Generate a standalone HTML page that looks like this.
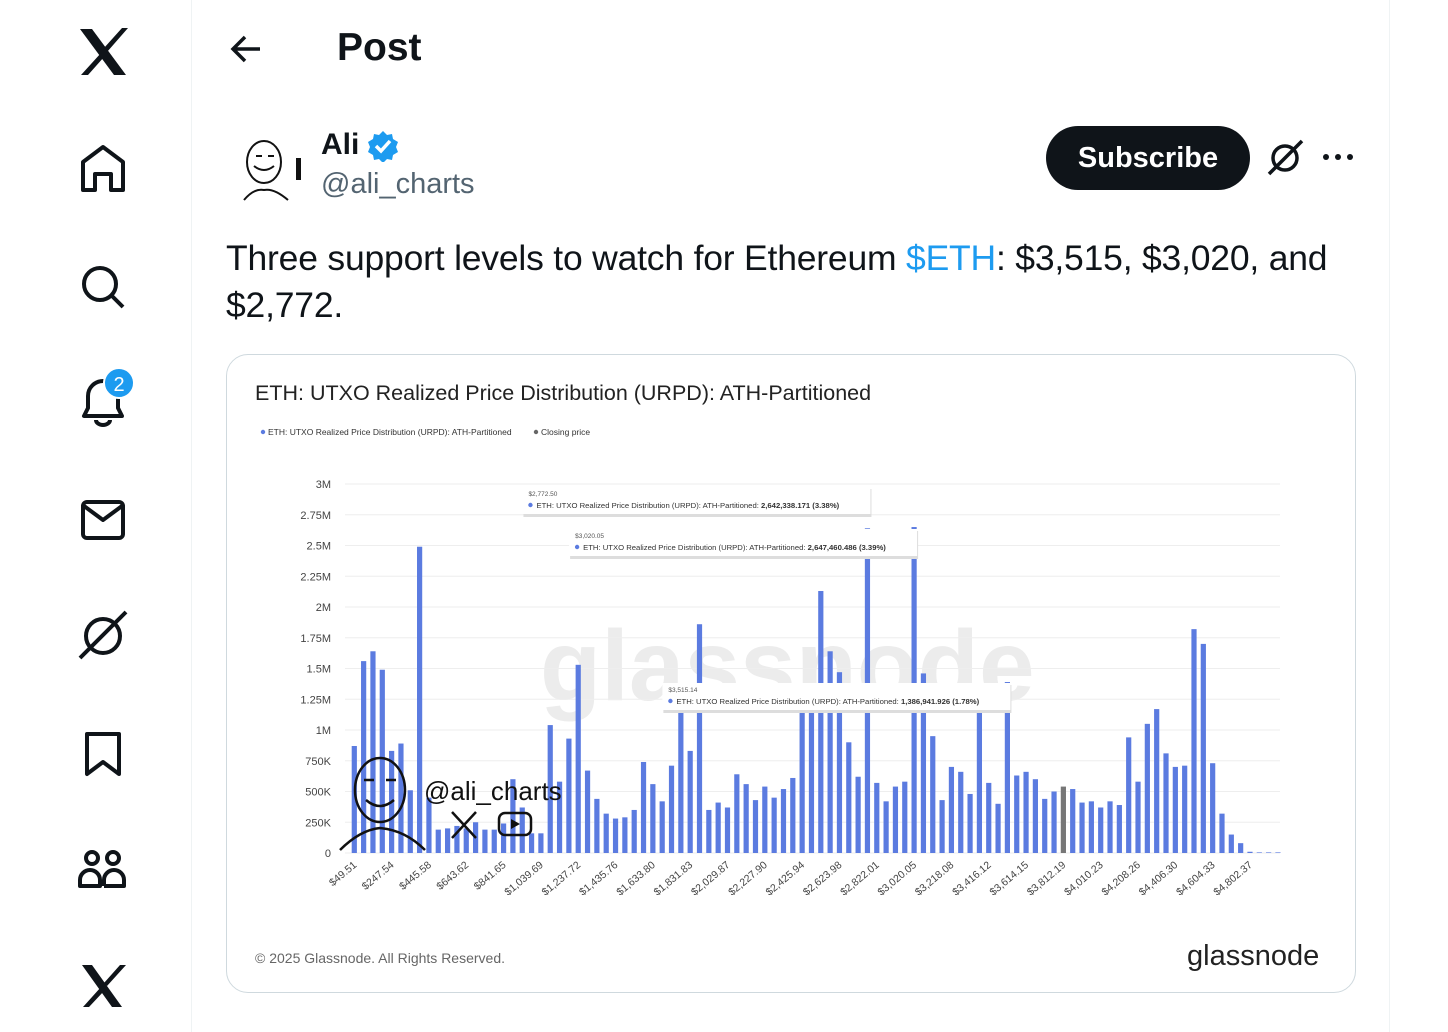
<!DOCTYPE html>
<html><head><meta charset="utf-8">
<style>
body{margin:0;width:1448px;height:1032px;background:#fff;position:relative;overflow:hidden;font-family:"Liberation Sans",sans-serif;color:#0f1419}
.abs{position:absolute}
</style></head>
<body>
<div class="abs" style="left:191px;top:0;width:1px;height:1032px;background:#eff3f4"></div>
<div class="abs" style="left:1389px;top:0;width:1px;height:1032px;background:#eff3f4"></div>

<svg class="abs" style="left:0;top:0" width="192" height="1032">
 <g fill="#0f1419"><path d="M80 29h12l34 46h-12z"/><path d="M81 75l20-22 3 4-16 18z M104 48l18-20h6l-21 24z"/></g>
 <g fill="none" stroke="#0f1419" stroke-width="4" stroke-linejoin="round">
  <path d="M83 190v-28l20-15 20 15v28h-12v-16h-16v16z"/>
  <g><circle cx="100" cy="284" r="16"/><path d="M112 296l11 11"/></g>
  <path d="M84 416h38l-4-8v-12a15 15 0 0 0-30 0v12zM96 420a7 5 0 0 0 14 0"/>
  <g><rect x="83" y="502" width="40" height="36" rx="4"/><path d="M84 506l19 14 19-14"/></g>
  <g><circle cx="103" cy="636" r="17"/><path d="M80 658l46-46"/></g>
  <path d="M87 734h32v40l-16-12-16 12z"/>
  <g><circle cx="92" cy="858" r="6"/><circle cx="113" cy="858" r="6"/><path d="M80 886v-6a10 10 0 0 1 20 0v6zM104 886v-6a10 10 0 0 1 20 0v6h-20"/></g>
 </g>
 <g fill="#0f1419"><path d="M82 965h10l30 42h-10z"/><path d="M83 1007l18-20 3 4-15 16z M104 983l16-18h6l-19 21z"/></g>
 <circle cx="119" cy="383" r="15" fill="#1d9bf0" stroke="#fff" stroke-width="2"/>
 <text x="119" y="391" text-anchor="middle" font-size="20" fill="#fff" font-family="Liberation Sans">2</text>
</svg>

<svg class="abs" style="left:228px;top:32px" width="36" height="34"><path d="M32 17H6M17 5L5 17l12 12" stroke="#0f1419" stroke-width="3.5" fill="none"/></svg>
<div class="abs" style="left:337px;top:26px;font-size:39px;font-weight:bold">Post</div>

<svg class="abs" style="left:226px;top:130px" width="82" height="80">
 <g fill="none" stroke="#111" stroke-width="2"><ellipse cx="38" cy="32" rx="17" ry="21"/><path d="M28 36q10 8 20 0M18 70q10-12 20-10q10-2 24 10M30 26h6M42 26h6"/></g>
 <rect x="70" y="28" width="5" height="22" fill="#111"/>
</svg>
<div class="abs" style="left:321px;top:128px;font-size:30px;font-weight:bold">Ali</div>
<svg class="abs" style="left:366px;top:130px" width="34" height="32"><path d="M17 1l4 4 5-1 1 5 5 3-2 5 2 5-5 3-1 5-5-1-4 4-4-4-5 1-1-5-5-3 2-5-2-5 5-3 1-5 5 1z" fill="#1d9bf0"/><path d="M10 16l5 5 9-10" stroke="#fff" stroke-width="3.5" fill="none"/></svg>
<div class="abs" style="left:321px;top:168px;font-size:29px;color:#536471">@ali_charts</div>
<div class="abs" style="left:1046px;top:126px;width:204px;height:64px;border-radius:32px;background:#0f1419;color:#fff;font-size:29px;font-weight:bold;text-align:center;line-height:64px">Subscribe</div>
<svg class="abs" style="left:1266px;top:138px" width="40" height="40"><g fill="none" stroke="#0f1419" stroke-width="3.5"><circle cx="19" cy="20" r="12"/><path d="M3 36L36 3"/></g></svg>
<svg class="abs" style="left:1320px;top:150px" width="36" height="14"><circle cx="6" cy="7" r="3" fill="#0f1419"/><circle cx="18" cy="7" r="3" fill="#0f1419"/><circle cx="30" cy="7" r="3" fill="#0f1419"/></svg>

<div class="abs" style="left:226px;top:235px;width:1130px;font-size:35.5px;line-height:47px;letter-spacing:-0.2px">Three support levels to watch for Ethereum <span style="color:#1d9bf0">$ETH</span>: $3,515, $3,020, and $2,772.</div>

<div class="abs" style="left:226px;top:354px;width:1128px;height:637px;border:1.5px solid #cfd9de;border-radius:22px"></div>
<div class="abs" style="left:255px;top:381px;font-size:21.5px;color:#222">ETH: UTXO Realized Price Distribution (URPD): ATH-Partitioned</div>
<div class="abs" style="left:255px;top:950px;font-size:14px;color:#666">© 2025 Glassnode. All Rights Reserved.</div>
<div class="abs" style="left:1187px;top:940px;font-size:29px;color:#222;letter-spacing:0">glassnode</div>

<svg id="chart" class="abs" style="left:0;top:0" width="1448" height="1032"></svg>

<script>
const values = [0.87,1.56,1.64,1.49,0.83,0.89,0.51,2.49,0.45,0.19,0.2,0.22,0.2,0.25,0.19,0.19,0.24,0.6,0.37,0.16,0.16,1.04,0.58,0.93,1.53,0.67,0.44,0.32,0.28,0.29,0.35,0.74,0.56,0.42,0.71,1.16,0.83,1.86,0.35,0.41,0.37,0.64,0.56,0.43,0.54,0.45,0.52,0.61,
1.25,1.15,2.13,1.64,1.47,0.9,0.62,2.64,0.57,0.42,0.54,0.58,2.65,1.46,0.95,0.43,0.7,0.66,0.48,1.15,0.57,0.4,1.39,0.63,0.66,0.6,0.44,0.5,0.54,0.52,0.41,0.42,0.37,0.42,0.39,0.94,0.58,1.05,1.17,0.81,0.7,0.71,1.82,1.7,0.73,0.32,0.15,0.08,0.01,0.005,0.005,0.005];
const closingIndex = 76;
const yTicks = [0,0.25,0.5,0.75,1,1.25,1.5,1.75,2,2.25,2.5,2.75,3];
const yTickLabels = ["0","250K","500K","750K","1M","1.25M","1.5M","1.75M","2M","2.25M","2.5M","2.75M","3M"];
const xTickLabels = ["$49.51","$247.54","$445.58","$643.62","$841.65","$1,039.69","$1,237.72","$1,435.76","$1,633.80","$1,831.83","$2,029.87","$2,227.90","$2,425.94","$2,623.98","$2,822.01","$3,020.05","$3,218.08","$3,416.12","$3,614.15","$3,812.19","$4,010.23","$4,208.26","$4,406.30","$4,604.33","$4,802.37"];
const tooltips = [
 {i:55, price:"$2,772.50", val:"2,642,338.171 (3.38%)", y:487},
 {i:60, price:"$3,020.05", val:"2,647,460.486 (3.39%)", y:529},
 {i:70, price:"$3,515.14", val:"1,386,941.926 (1.78%)", y:683}
];
const NS="http://www.w3.org/2000/svg";
const svg=document.getElementById('chart');
const y=v=>853-v*123;
const x=i=>354.3+i*9.33;
function mk(t,a,p){const e=document.createElementNS(NS,t);for(const k in a)e.setAttribute(k,a[k]);(p||svg).appendChild(e);return e;}
let lg=mk('g',{});


mk('circle',{cx:263,cy:432,r:2.2,fill:'#5b7be0'},lg);
let t1=mk('text',{x:268,y:435,'font-size':8.5,fill:'#333'},lg);t1.textContent='ETH: UTXO Realized Price Distribution (URPD): ATH-Partitioned';
mk('circle',{cx:536,cy:432,r:2.2,fill:'#666'},lg);
let t2=mk('text',{x:541,y:435,'font-size':8.5,fill:'#333'},lg);t2.textContent='Closing price';
let wm=mk('text',{x:540,y:700,'font-size':100,fill:'#ececec','font-weight':'bold'});wm.textContent='glassnode';


yTicks.forEach((v,k)=>{
 let g=mk('line',{x1:345,x2:1280,y1:y(v),y2:y(v),stroke:'#eeeeee'});
 
 
 let t=mk('text',{x:331,y:y(v)+4,'text-anchor':'end','font-size':11,fill:'#444'});t.textContent=yTickLabels[k];
 
 
});
values.forEach((v,i)=>{
 let r=mk('rect',{x:x(i)-2.6,y:y(v),width:5.2,height:Math.max(v*123,0.5),fill:i===closingIndex?'#777777':'#5b7be0'});
 
 
});
xTickLabels.forEach((s,k)=>{
 const px=x(k*4)+3, py=866;
 let t=mk('text',{x:px,y:py,'text-anchor':'end','font-size':10.5,fill:'#444',transform:`rotate(-40 ${px} ${py})`});t.textContent=s;
 
 
});
tooltips.forEach(tt=>{
 const right=x(tt.i)+3, left=right-348;
 let g=mk('g',{});
 
 
 mk('rect',{x:left+1,y:tt.y+2,width:348,height:28,fill:'#ddd'},g);
 mk('rect',{x:left,y:tt.y,width:348,height:27,fill:'#fff'},g);
 let a=mk('text',{x:left+6,y:tt.y+9,'font-size':6.5,fill:'#555'},g);a.textContent=tt.price;
 mk('circle',{cx:left+8,cy:tt.y+18,r:2.2,fill:'#5b7be0'},g);
 let b=mk('text',{x:left+14,y:tt.y+21,'font-size':7.7,fill:'#333'},g);
 b.innerHTML='ETH: UTXO Realized Price Distribution (URPD): ATH-Partitioned: <tspan font-weight="bold">'+tt.val+'</tspan>';
});
let aw=mk('g',{});


mk('ellipse',{cx:380,cy:790,rx:25,ry:32,fill:'none',stroke:'#111','stroke-width':2.5},aw);
mk('path',{d:'M366 800q14 12 28 0M340 850q20-20 40-22q25 2 45 22M364 780h10M386 780h10',fill:'none',stroke:'#111','stroke-width':2.5},aw);
let at=mk('text',{x:424,y:800,'font-size':26,fill:'#111'},aw);at.textContent='@ali_charts';
mk('path',{d:'M452 812l24 26M476 812l-24 26',stroke:'#111','stroke-width':2.5},aw);
mk('rect',{x:499,y:813,width:32,height:22,rx:6,fill:'none',stroke:'#111','stroke-width':2.5},aw);
mk('path',{d:'M511 819l9 5-9 5z',fill:'#111'},aw);
</script>
</body></html>
